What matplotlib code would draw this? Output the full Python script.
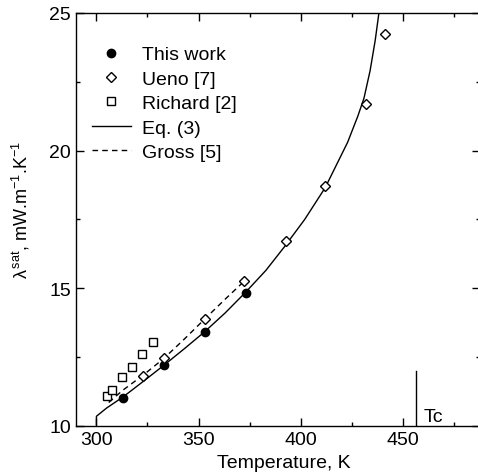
import matplotlib
matplotlib.use("Agg")
import matplotlib.pyplot as plt
from matplotlib.ticker import MultipleLocator

plt.rcParams['font.family'] = ['Liberation Sans', 'DejaVu Sans']
plt.rcParams['mathtext.fontset'] = 'custom'
plt.rcParams['mathtext.rm'] = 'Liberation Sans'
plt.rcParams['mathtext.it'] = 'Liberation Sans:italic'

# Data
this_T = [313, 333, 353, 373]
this_L = [11.02, 12.2, 13.42, 14.84]

ueno_T = [323, 333, 353, 372.5, 392.6, 412, 432, 441.5]
ueno_L = [11.81, 12.48, 13.87, 15.27, 16.7, 18.71, 21.7, 24.22]

richard_T = [305.2, 307.6, 312.7, 317.6, 322.5, 327.6]
richard_L = [11.1, 11.31, 11.76, 12.14, 12.6, 13.03]

eq3_T = [300, 300, 305, 313, 323, 333, 343, 353, 363, 373, 383, 392,
         402, 412, 418, 423, 428, 431, 434, 436.5, 438.5]
eq3_L = [10.05, 10.35, 10.65, 11.05, 11.62, 12.2, 12.8, 13.42, 14.1, 14.85,
         15.65, 16.5, 17.5, 18.65, 19.55, 20.3, 21.25, 21.9, 22.9, 24.0, 25.1]

gross_T = [306, 313, 323, 333, 343, 353, 363, 373]
gross_L = [10.85, 11.3, 11.85, 12.45, 13.15, 13.88, 14.6, 15.3]

tc_T = [456.5, 456.5]
tc_L = [10.0, 12.0]

x_ticks = [300, 350, 400, 450]
y_ticks = [10, 15, 20, 25]

fig = plt.figure(figsize=(4.78, 4.77), dpi=100)
ax = fig.add_axes([0.159, 0.105, 0.846, 0.866])

ax.plot(eq3_T, eq3_L, '-', color='black', lw=1.0, label='Eq. (3)')
ax.plot(gross_T, gross_L, '--', color='black', lw=1.0, dashes=(4, 3), label='Gross [5]')
ax.plot(this_T, this_L, 'o', color='black', ms=6, ls='none', label='This work')
ax.plot(ueno_T, ueno_L, 'D', mfc='white', mec='black', mew=1.0, ms=5.3, ls='none', label='Ueno [7]')
ax.plot(richard_T, richard_L, 's', mfc='white', mec='black', mew=1.0, ms=5.5, ls='none', label='Richard [2]')
ax.plot(tc_T, tc_L, '-', color='black', lw=1.0)
ax.text(460, 10.05, 'Tc', fontsize=14, ha='left', va='bottom')

ax.set_xlim(290, 488)
ax.set_ylim(10, 25)
ax.set_xticks(x_ticks)
ax.set_yticks(y_ticks)
ax.xaxis.set_minor_locator(MultipleLocator(25))
ax.yaxis.set_minor_locator(MultipleLocator(2.5))
ax.tick_params(which='both', direction='in', top=True, right=True, labelsize=14)
ax.tick_params(which='major', length=6, width=1)
ax.tick_params(which='minor', length=3, width=1)
for s in ax.spines.values():
    s.set_linewidth(1.0)

ax.set_xlabel('Temperature, K', fontsize=14)
ax.xaxis.set_label_coords(0.515, -0.068, transform=ax.transAxes)
ax.xaxis.label.set_va('top')
ax.set_ylabel('λ$^{\\,\\mathrm{sat}}$, mW.m$^{-1}$.K$^{-1}$', fontsize=13)
ax.yaxis.set_label_coords(-0.11, 0.525, transform=ax.transAxes)

handles, labels = ax.get_legend_handles_labels()
order = [2, 3, 4, 0, 1]
ax.legend([handles[i] for i in order], [labels[i] for i in order],
          loc='upper left', bbox_to_anchor=(0.02, 0.939), frameon=False,
          fontsize=14, handlelength=2.0, handletextpad=0.6, labelspacing=0.35,
          borderaxespad=0.0)

fig.savefig('out.png', dpi=100)
